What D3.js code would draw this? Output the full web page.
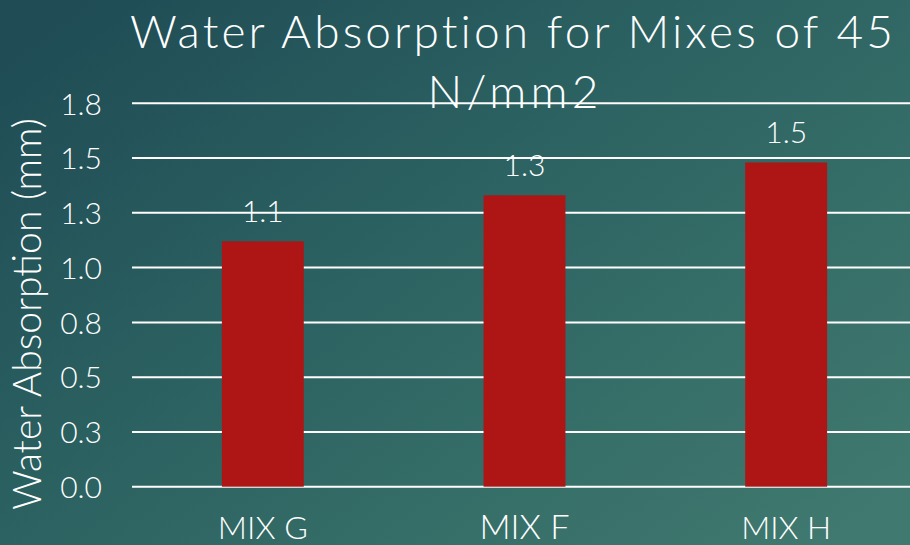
<!DOCTYPE html>
<html>
<head>
<meta charset="utf-8">
<script src="https://cdn.jsdelivr.net/npm/d3@7"></script>
<style>
html,body{margin:0;padding:0;overflow:hidden;background:#2a6060;}
svg{display:block;}
text{font-family:"Lato","Open Sans",sans-serif;font-weight:300;fill:#ffffff;}
</style>
</head>
<body>
<svg id="chart" width="910" height="545"></svg>
<script>
const categories = ["MIX G", "MIX F", "MIX H"];
const values = [1.12, 1.33, 1.48];
const tickValues = [0, 0.25, 0.5, 0.75, 1.0, 1.25, 1.5, 1.75];
const tickLabels = ["0.0", "0.3", "0.5", "0.8", "1.0", "1.3", "1.5", "1.8"];
const titleLines = ["Water Absorption for Mixes of 45", "N/mm2"];
const yTitle = "Water Absorption (mm)";

const W = 910, H = 545;
const svg = d3.select("#chart");

const defs = svg.append("defs");
const grad = defs.append("linearGradient").attr("id", "bg")
  .attr("x1", "0").attr("y1", "0.1").attr("x2", "1").attr("y2", "0.9");
grad.append("stop").attr("offset", "0").attr("stop-color", "#1f4c55");
grad.append("stop").attr("offset", "0.5").attr("stop-color", "#2e6563");
grad.append("stop").attr("offset", "1").attr("stop-color", "#40796f");
svg.append("rect").attr("width", W).attr("height", H).attr("fill", "url(#bg)");

const x = d3.scaleBand().domain(categories).range([132, 917])
  .paddingInner(0.687).paddingOuter(0.3435);
const y = d3.scaleLinear().domain([0, 1.75]).range([486.7, 103.3]);

function fit(sel, target) {
  const node = sel.node();
  const fs = parseFloat(sel.attr("font-size"));
  const len = node.getComputedTextLength();
  if (len > 0) sel.attr("font-size", fs * target / len);
}
function spread(sel, target) {
  const len = sel.node().getComputedTextLength();
  const n = sel.text().length;
  if (len > 0 && n > 1) sel.attr("letter-spacing", (target - len) / n);
}

// gridlines
svg.append("g").selectAll("line").data(tickValues).join("line")
  .attr("x1", 132).attr("x2", W)
  .attr("y1", d => y(d)).attr("y2", d => y(d))
  .attr("stroke", "#ffffff").attr("stroke-width", 2);

// y axis labels via d3 axis
const yAxis = d3.axisLeft(y).tickValues(tickValues)
  .tickFormat((d, i) => tickLabels[i]).tickSize(0).tickPadding(0);
const gy = svg.append("g").attr("transform", "translate(102,0)").call(yAxis);
gy.select(".domain").remove();
gy.attr("font-family", null);
gy.selectAll("text").attr("font-size", 30).attr("fill", "#ffffff").attr("dy", "0.36em");

// bars
svg.append("g").selectAll("rect").data(values).join("rect")
  .attr("x", (d, i) => x(categories[i]))
  .attr("width", x.bandwidth())
  .attr("y", d => y(d))
  .attr("height", d => y(0) - y(d))
  .attr("fill", "#ad1614");

// data labels
svg.append("g").selectAll("text").data(values).join("text")
  .attr("x", (d, i) => x(categories[i]) + x.bandwidth() / 2)
  .attr("y", d => y(d) - 19)
  .attr("text-anchor", "middle")
  .attr("font-size", 30)
  .text(d => d3.format(".1f")(d));

// x axis labels
const xAxis = d3.axisBottom(x).tickSize(0).tickPadding(0);
const gx = svg.append("g").call(xAxis);
gx.select(".domain").remove();
gx.attr("font-family", null);
gx.selectAll("text").attr("y", 539).attr("dy", null).attr("font-size", 29)
  .attr("fill", "#ffffff").each(function(){ fit(d3.select(this), 90); });

// y title
const yt = svg.append("text")
  .attr("transform", "translate(41,314) rotate(-90)")
  .attr("text-anchor", "middle")
  .attr("font-size", 31)
  .text(yTitle);
fit(yt, 392);

// title
const t1 = svg.append("text").attr("x", 513).attr("y", 48)
  .attr("text-anchor", "middle").attr("font-size", 46).text(titleLines[0]);
spread(t1, 767);
const t2 = svg.append("text").attr("x", 515).attr("y", 108)
  .attr("text-anchor", "middle").attr("font-size", 46).text(titleLines[1]);
spread(t2, 175);
</script>
</body>
</html>
